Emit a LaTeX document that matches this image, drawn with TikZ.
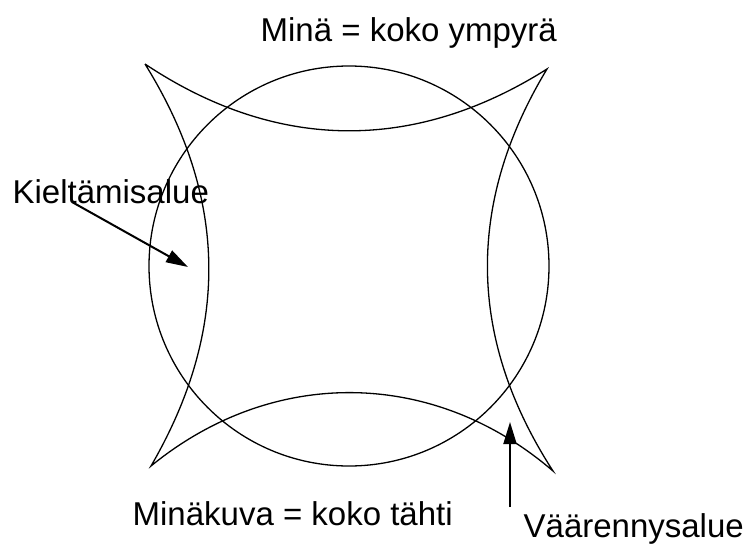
\documentclass[tikz,border=0pt]{standalone}
\usepackage{fontspec}
\setmainfont{Liberation Sans}
\usetikzlibrary{arrows.meta}

\begin{document}
\begin{tikzpicture}[x=1pt, y=-1pt,
  line width=1.3pt,
  label/.style={anchor=base west, inner sep=0pt, font=\fontsize{33}{40}\selectfont},
  pointer/.style={line width=2pt, -{Triangle[length=22pt, width=13pt]}}]
\useasboundingbox (0,0) rectangle (746,546);
% The circle
\draw (349,266) circle (200pt);
% Corners of the star
\coordinate (tl) at (145,64);
\coordinate (tr) at (547,69);
\coordinate (br) at (553,471);
\coordinate (bl) at (151,466);
% Draw the star with bent sides
\draw (tl) to[bend right=33] (tr)
           to[bend right=32] (br)
           to[bend right=40] (bl)
           to[bend right=31] (tl);
% Add labels
\node[label] (mina) at (260,41) {Minä = koko ympyrä};
\node[label] (kielto) at (12,203) {Kieltämisalue};
\node[label] (kuva) at (132,525) {Minäkuva = koko tähti};
\node[label] (vaar) at (523,537) {Väärennysalue};
% Add arrows to the regions
\coordinate (kieltoA) at (72,202);
\coordinate (kieltoB) at (188,267);
\coordinate (vaarA) at (510,507);
\coordinate (vaarB) at (510,422);
\draw[pointer] (kieltoA) -- (kieltoB);
\draw[pointer] (vaarA) -- (vaarB);
\end{tikzpicture}
\end{document}
